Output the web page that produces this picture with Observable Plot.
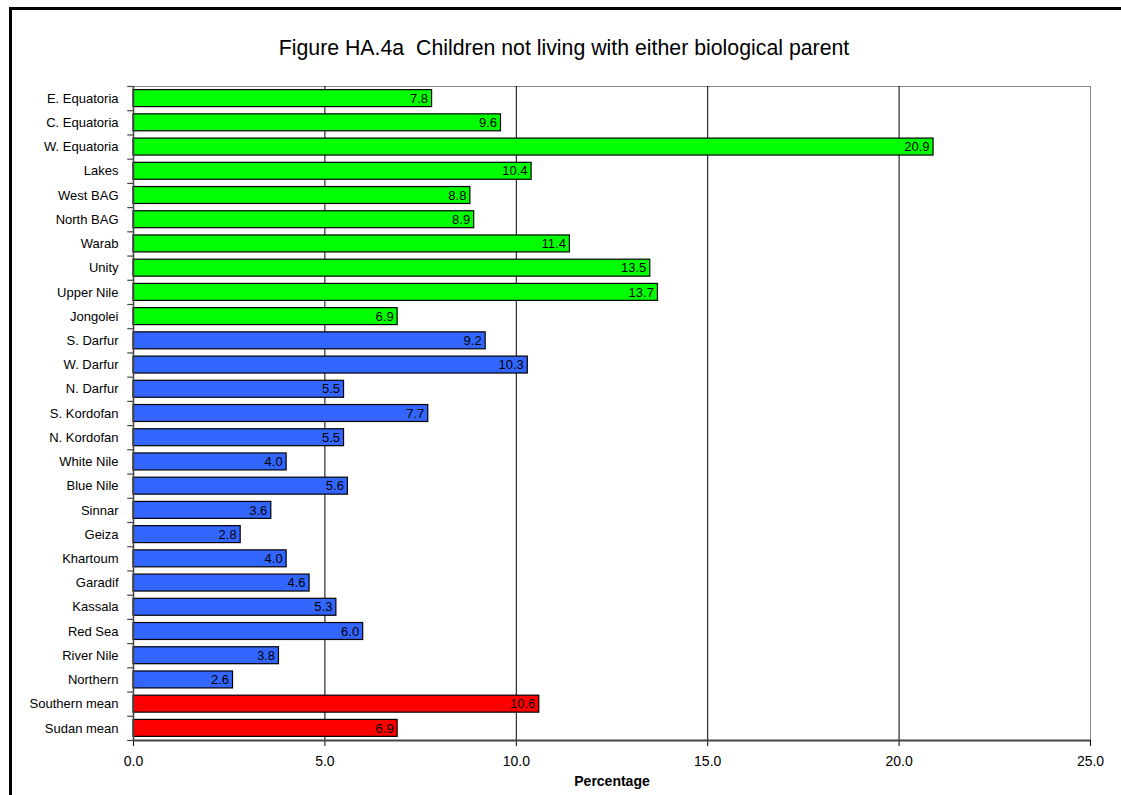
<!DOCTYPE html>
<html>
<head>
<meta charset="utf-8">
<script src="https://cdn.jsdelivr.net/npm/d3@7"></script>
<script src="https://cdn.jsdelivr.net/npm/@observablehq/plot@0.6"></script>
<style>
  html, body { margin: 0; padding: 0; background: #fff; overflow: hidden; }
  #wrap { position: relative; width: 1121px; height: 795px; }
  #frame { position: absolute; left: 9px; top: 7px; width: 1130px; height: 820px; border: 3px solid #000; box-sizing: border-box; }
  #title { position: absolute; left: 0; width: 1128px; top: 36px; text-align: center; font-family: "Liberation Sans", Arial, sans-serif; font-size: 21.3px; color: #000; white-space: nowrap; }
  #chart { position: absolute; left: 0; top: 0; }
</style>
</head>
<body>
<div id="wrap">
  <div id="frame"></div>
  <div id="chart"></div>
  <div id="title">Figure HA.4a&nbsp;&nbsp;Children not living with either biological parent</div>
</div>
<script>
const regions = ["E. Equatoria","C. Equatoria","W. Equatoria","Lakes","West BAG","North BAG","Warab","Unity","Upper Nile","Jongolei","S. Darfur","W. Darfur","N. Darfur","S. Kordofan","N. Kordofan","White Nile","Blue Nile","Sinnar","Geiza","Khartoum","Garadif","Kassala","Red Sea","River Nile","Northern","Southern mean","Sudan mean"];
const values = [7.8,9.6,20.9,10.4,8.8,8.9,11.4,13.5,13.7,6.9,9.2,10.3,5.5,7.7,5.5,4.0,5.6,3.6,2.8,4.0,4.6,5.3,6.0,3.8,2.6,10.6,6.9];
const groups = ["South","South","South","South","South","South","South","South","South","South","North","North","North","North","North","North","North","North","North","North","North","North","North","North","North","Mean","Mean"];
const xTicks = [0,5,10,15,20,25];
const gridValues = [5,10,15,20];

const data = regions.map((r,i) => ({region: r, value: values[i], group: groups[i]}));

const W = 1121, H = 795, mT = 86, mB = 55, mL = 133, mR = 31;
const step = (H - mT - mB) / regions.length;
const font = "'Liberation Sans', Arial, sans-serif";

const chart = Plot.plot({
  width: W, height: H,
  marginTop: mT, marginBottom: mB, marginLeft: mL, marginRight: mR,
  style: {fontFamily: font, background: "transparent", overflow: "visible"},
  x: {domain: [0,25], ticks: xTicks, tickFormat: d => d.toFixed(1)},
  y: {domain: regions, paddingInner: 0.3, paddingOuter: 0.15, round: false},
  color: {domain: ["South","North","Mean"], range: ["#00ff00","#3366ff","#ff0000"]},
  marks: [
    Plot.frame({stroke: "#888", strokeWidth: 1}),
    Plot.ruleX(gridValues, {stroke: "#000", strokeWidth: 1}),
    Plot.barX(data, {y: "region", x: "value", fill: "group", stroke: "#000", strokeWidth: 1.2}),
    Plot.text(data, {y: "region", x: "value", text: d => d.value.toFixed(1), textAnchor: "end", dx: -4, fill: "#000", fontSize: 13}),
    Plot.axisY({tickSize: 0, tickPadding: 15, fontSize: 13, label: null, fill: "#000"}),
    Plot.ruleY(regions, {x1: -0.15, x2: 0, dy: -step/2, stroke: "#444", strokeWidth: 1.2, clip: false}),
    Plot.ruleY([regions[regions.length-1]], {x1: -0.15, x2: 0, dy: step/2, stroke: "#444", strokeWidth: 1.2, clip: false}),
    Plot.ruleX([0], {stroke: "#444", strokeWidth: 1.5}),
    Plot.axisX({ticks: xTicks, tickFormat: d => d.toFixed(1), tickSize: 6, tickPadding: 10, fontSize: 14, label: "Percentage", labelAnchor: "center", labelArrow: "none", labelOffset: 45, fill: "#000", stroke: "#000"}),
    Plot.ruleY([regions[regions.length-1]], {x1: 0, x2: 25, dy: step/2, stroke: "#444", strokeWidth: 2})
  ]
});
document.getElementById("chart").appendChild(chart);
chart.querySelectorAll("text").forEach(t => { if (t.textContent === "Percentage") { t.setAttribute("font-weight", "bold"); t.setAttribute("font-size", "14"); } });
</script>
</body>
</html>
